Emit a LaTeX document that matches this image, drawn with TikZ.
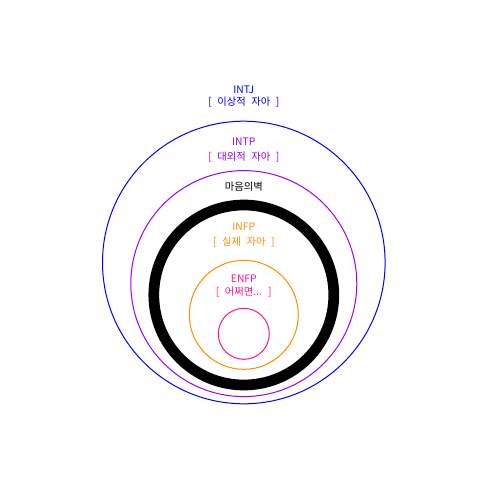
\documentclass[tikz,border=0pt]{standalone}
\usepackage{fontspec}
\setmainfont[WordSpace=2.4]{Noto Sans CJK KR}
\definecolor{cblue}{HTML}{0000FF}
\definecolor{cpurple}{HTML}{9900FF}
\definecolor{corange}{HTML}{FF8C00}
\definecolor{cpink}{HTML}{FF1493}
\begin{document}
\begin{tikzpicture}[x=1pt,y=-1pt,
  ring/.style={circle,draw,inner sep=0pt,outer sep=0pt,line width=1pt},
  lbl/.style={inner sep=0pt,font=\fontsize{10.3}{12}\selectfont,anchor=center}]
\useasboundingbox (0,0) rectangle (488,488);
\fill[white] (0,0) rectangle (488,488);
\node[ring,draw=cblue,minimum size=282.6pt] (intj) at (243.8,262.5) {};
\node[ring,draw=cpurple,minimum size=226pt] (intp) at (243.8,283.6) {};
\node[ring,draw=black,line width=10.7pt,minimum size=180pt] (wall) at (243.8,295) {};
\node[ring,draw=corange,minimum size=109pt] (infp) at (243.8,314.8) {};
\node[ring,draw=cpink,minimum size=51pt] (enfp) at (243.8,333.8) {};
\node[lbl,text=cblue] (t1) at (243.8,89.5) {INTJ};
\node[lbl,text=cblue] (t1b) at (243.8,102) {[ 이상적 자아 ]};
\node[lbl,text=cpurple] (t2) at (243.8,142) {INTP};
\node[lbl,text=cpurple] (t2b) at (243.8,157) {[ 대외적 자아 ]};
\node[lbl,text=black] (t3) at (243.8,186.7) {마음의벽};
\node[lbl,text=corange] (t4) at (243.8,227) {INFP};
\node[lbl,text=corange] (t4b) at (243.8,242) {[ 실제 자아 ]};
\node[lbl,text=cpink] (t5) at (243.8,279) {ENFP};
\node[lbl,text=cpink] (t5b) at (243.8,292) {[ 어쩌면... ]};
\end{tikzpicture}
\end{document}
